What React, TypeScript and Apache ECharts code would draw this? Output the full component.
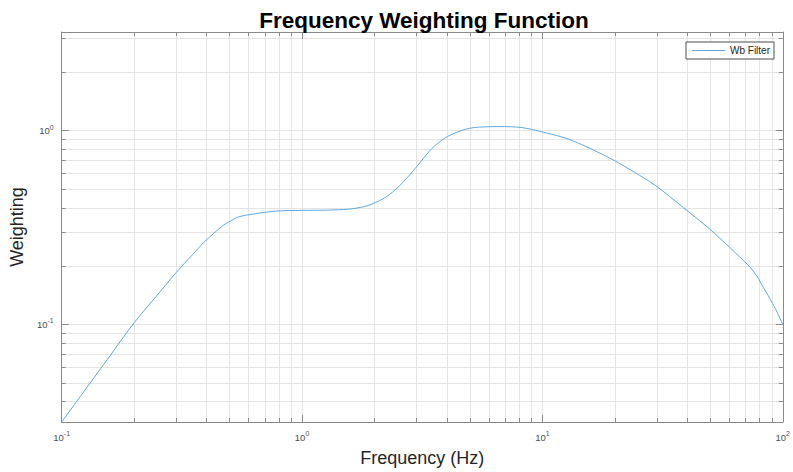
import React, { useEffect, useRef } from "react";
import * as echarts from "echarts";

const titleText = "Frequency Weighting Function";
const xAxisName = "Frequency (Hz)";
const yAxisName = "Weighting";
const seriesName = "Wb Filter";

const frequency = [
  0.1, 0.125, 0.15, 0.2, 0.25, 0.3, 0.35, 0.39, 0.43, 0.47, 0.5, 0.544, 0.63,
  0.784, 1.0, 1.25, 1.575, 1.8, 1.96, 2.23, 2.53, 2.92, 3.2, 3.47, 3.94, 4.4,
  4.77, 5.2, 5.77, 6.5, 7.43, 8.2, 9.0, 10.5, 12.4, 14.5, 16.9, 20, 23.3, 29.5,
  38.7, 49.8, 60.1, 66, 72.7, 78, 82.6, 87, 90.8, 95, 100,
];
const weighting = [
  0.0314, 0.0459, 0.0625, 0.102, 0.142, 0.186, 0.229, 0.265, 0.296, 0.325,
  0.34, 0.359, 0.372, 0.385, 0.388, 0.389, 0.394, 0.405, 0.419, 0.454, 0.516,
  0.627, 0.72, 0.81, 0.918, 0.98, 1.016, 1.038, 1.047, 1.05, 1.048, 1.038,
  1.016, 0.97, 0.918, 0.85, 0.778, 0.7, 0.627, 0.522, 0.4, 0.31, 0.25, 0.224,
  0.199, 0.178, 0.157, 0.141, 0.128, 0.115, 0.1,
];

const xMin = 0.1;
const xMax = 100;
const yMin = 0.0314;
const yMax = 3.23;

const textColor = "#262626";
const axisColor = "#8a8a8a";
const gridColor = "#e4e4e4";
const lineColor = "#5ea8df";

function powLabel(value: number): string {
  const l = Math.log10(value);
  const e = Math.round(l);
  if (Math.abs(l - e) > 1e-6) return "";
  return `{b|10}{s|${e}}`;
}

const labelRich = {
  b: { fontSize: 9.5, lineHeight: 14, color: "#4d4d4d", fontFamily: "Liberation Sans, Arial" },
  s: { fontSize: 7, lineHeight: 7, verticalAlign: "top", color: "#4d4d4d", fontFamily: "Liberation Sans, Arial" },
};

export default function App() {
  const ref = useRef<HTMLDivElement>(null);
  useEffect(() => {
    if (!ref.current) return;
    const chart = echarts.init(ref.current, null, { renderer: "svg" });
    const data = frequency.map((f, i) => [f, weighting[i]]);
    const baseAxis = {
      axisLine: { show: true, onZero: false, lineStyle: { color: axisColor, width: 1 } },
      axisTick: { show: true, inside: true, length: 7, lineStyle: { color: axisColor } },
      minorTick: { show: true, splitNumber: 9, length: 4, lineStyle: { color: axisColor } },
    };
    chart.setOption({
      animation: false,
      backgroundColor: "#ffffff",
      textStyle: { fontFamily: "Liberation Sans, Arial, sans-serif" },
      title: {
        text: titleText,
        left: 419,
        textAlign: "center",
        top: 4,
        textStyle: { fontSize: 22.5, fontWeight: "bold", color: "#000000", fontFamily: "Liberation Sans, Arial" },
      },
      legend: {
        right: 19,
        top: 42,
        padding: [3, 4, 3, 6],
        itemWidth: 33,
        itemHeight: 1,
        borderColor: "#4d4d4d",
        borderWidth: 1,
        backgroundColor: "#ffffff",
        textStyle: { fontSize: 10, color: textColor, lineHeight: 11 },
        data: [{ name: seriesName, icon: "rect" }],
      },
      grid: { left: 59, top: 32, width: 726, height: 395, containLabel: false },
      xAxis: [
        {
          ...baseAxis,
          type: "log",
          logBase: 10,
          min: xMin,
          max: xMax,
          position: "bottom",
          name: xAxisName,
          nameLocation: "middle",
          nameGap: 27,
          nameTextStyle: { fontSize: 18, color: textColor },
          axisLabel: {
            show: true,
            margin: 8,
            showMinLabel: true,
            showMaxLabel: true,
            formatter: powLabel,
            rich: labelRich,
          },
          splitLine: { show: true, lineStyle: { color: gridColor, width: 1 } },
          minorSplitLine: { show: true, lineStyle: { color: gridColor, width: 1 } },
        },
        {
          ...baseAxis,
          type: "log",
          logBase: 10,
          min: xMin,
          max: xMax,
          position: "top",
          axisLabel: { show: false },
          splitLine: { show: false },
          minorSplitLine: { show: false },
        },
      ],
      yAxis: [
        {
          ...baseAxis,
          type: "log",
          logBase: 10,
          min: yMin,
          max: yMax,
          position: "left",
          name: yAxisName,
          nameLocation: "middle",
          nameGap: 29,
          nameTextStyle: { fontSize: 18, color: textColor },
          axisLabel: {
            show: true,
            margin: 8,
            showMinLabel: true,
            showMaxLabel: true,
            formatter: powLabel,
            rich: labelRich,
          },
          splitLine: { show: true, lineStyle: { color: gridColor, width: 1 } },
          minorSplitLine: { show: true, lineStyle: { color: gridColor, width: 1 } },
        },
        {
          ...baseAxis,
          type: "log",
          logBase: 10,
          min: yMin,
          max: yMax,
          position: "right",
          axisLabel: { show: false },
          splitLine: { show: false },
          minorSplitLine: { show: false },
        },
      ],
      series: [
        {
          name: seriesName,
          type: "line",
          xAxisIndex: 0,
          yAxisIndex: 0,
          data,
          symbol: "none",
          showSymbol: false,
          smooth: 0.3,
          lineStyle: { color: lineColor, width: 1 },
          itemStyle: { color: lineColor },
        },
      ],
    });
    return () => chart.dispose();
  }, []);
  return (
    <div
      ref={ref}
      style={{ position: "fixed", left: 0, top: 0, width: 793, height: 472, background: "#fff" }}
    />
  );
}
